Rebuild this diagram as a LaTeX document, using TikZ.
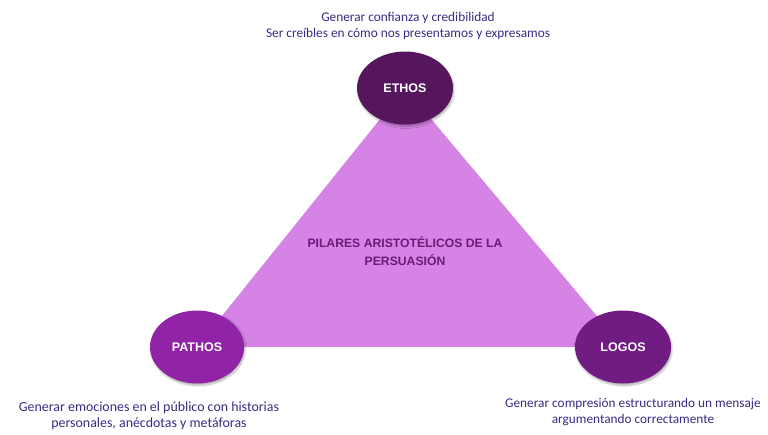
\documentclass[tikz,border=0pt]{standalone}
\usepackage{fontspec}
\setmainfont{Carlito}
\newfontfamily\labfont{Liberation Sans}
\usetikzlibrary{shapes.geometric,shadows.blur}
\definecolor{tri}{HTML}{D584E6}
\definecolor{ethosc}{HTML}{56165E}
\definecolor{pathosc}{HTML}{9023A6}
\definecolor{logosc}{HTML}{711C82}
\definecolor{desc}{HTML}{3B2A85}
\definecolor{ctext}{HTML}{6A1B7A}
\tikzset{
  pillar/.style={ellipse, minimum width=96pt, minimum height=73pt, inner sep=0pt,
     text=white, font=\labfont\bfseries\fontsize{12.5}{14}\selectfont,
     blur shadow={shadow xshift=1pt, shadow yshift=-2pt, shadow blur steps=6, shadow opacity=30}},
  desctext/.style={align=center, text=desc, font=\fontsize{13.3}{16}\selectfont, inner sep=0pt},
}
\begin{document}
\begin{tikzpicture}[x=1pt,y=-1pt]
\useasboundingbox (0,0) rectangle (768,434);
\coordinate (e) at (405,88);
\coordinate (p) at (197,347);
\coordinate (l) at (623,347);
\fill[tri] (e) -- (p) -- (l) -- cycle;
\node[align=center, text=ctext, font=\labfont\bfseries\fontsize{12.2}{18}\selectfont] (center) at (405,251) {PILARES ARISTOTÉLICOS DE LA\\PERSUASIÓN};
\node[pillar, fill=ethosc] (ethos) at (e) {ETHOS};
\node[pillar, fill=pathosc, minimum width=94pt] (pathos) at (p) {PATHOS};
\node[pillar, fill=logosc] (logos) at (l) {LOGOS};
\node[desctext] (etxt) at (408,26) {Generar confianza y credibilidad\\Ser creíbles en cómo nos presentamos y expresamos};
\node[desctext, font=\fontsize{13.9}{16}\selectfont] (ptxt) at (149,416) {Generar emociones en el público con historias\\personales, anécdotas y metáforas};
\node[desctext] (ltxt) at (633,412) {Generar compresión estructurando un mensaje\\argumentando correctamente};
\end{tikzpicture}
\end{document}
